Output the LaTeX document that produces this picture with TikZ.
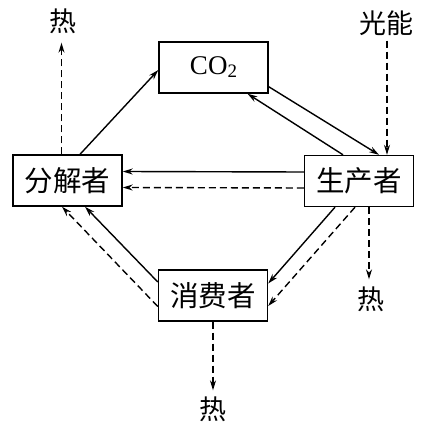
\documentclass[tikz,border=0pt]{standalone}
\usepackage{fontspec}
\usepackage{tikz}
\usetikzlibrary{arrows.meta,positioning}
\newfontfamily\cjk{Noto Sans CJK SC}
\newfontfamily\lat{Liberation Serif}

\begin{document}
\begin{tikzpicture}[x=1pt, y=-1pt, >={Stealth[length=10pt,width=6pt]},
    box/.style={draw, line width=1.4pt, minimum width=109pt, minimum height=51pt,
                inner sep=0pt, font=\cjk\fontsize{28.5}{32}\selectfont},
    lbl/.style={inner sep=0pt, font=\cjk\fontsize{27}{30}\selectfont},
    flow/.style={->, line width=1.4pt},
    heatflow/.style={->, line width=1.4pt, dash pattern=on 7pt off 4pt}]
  \useasboundingbox (0,0) rectangle (448,433);
  % boxes
  \node[box] (co2) at (213.5,67.5) {\lat\fontsize{27}{30}\selectfont CO\raisebox{-3pt}{\fontsize{19}{20}\selectfont 2}};
  \node[box] (fj) at (67.5,180.5) {分解者};
  \node[box] (sc) at (359,181) {生产者};
  \node[box] (xf) at (213,295.5) {消费者};
  % free labels
  \node[lbl] (gn) at (386,23) {光能};
  \node[lbl] (h1) at (63,21) {热};
  \node[lbl] (h2) at (371,299) {热};
  \node[lbl] (h3) at (213,409) {热};
  % carbon cycle
  \draw[flow] ([xshift=12.5pt]fj.north) -- ([yshift=-2.5pt]co2.west);
  \draw[flow] ([yshift=7pt]co2.south east) -- ([xshift=20pt]sc.north);
  \draw[flow] ([xshift=-16pt]sc.north) -- ([xshift=34pt]co2.south);
  \draw[flow] ([yshift=9pt]sc.west) -- ([yshift=9pt]fj.east);
  \draw[flow] ([xshift=-24pt]sc.south) -- ([yshift=12pt]xf.east);
  \draw[flow] ([yshift=13.5pt]xf.west) -- ([xshift=17.5pt]fj.south);
  % energy flow
  \draw[heatflow] ([xshift=28pt,yshift=-5pt]sc.north |- gn.south) -- ([xshift=28pt]sc.north);
  \draw[heatflow] ([yshift=-7pt]sc.west) -- ([yshift=-7pt]fj.east);
  \draw[heatflow] ([xshift=-4pt]sc.south) -- ([yshift=-10.5pt]xf.east);
  \draw[heatflow] ([yshift=-11pt]xf.west) -- ([xshift=-5.5pt]fj.south);
  % heat losses
  \draw[heatflow] ([xshift=-6pt]fj.north) -- ([xshift=-1.5pt,yshift=-9pt]h1.south);
  \draw[heatflow] ([xshift=10pt]sc.south) -- ([xshift=-2pt,yshift=7pt]h2.north);
  \draw[heatflow] (xf.south) -- ([yshift=6pt]h3.north);
\end{tikzpicture}
\end{document}
